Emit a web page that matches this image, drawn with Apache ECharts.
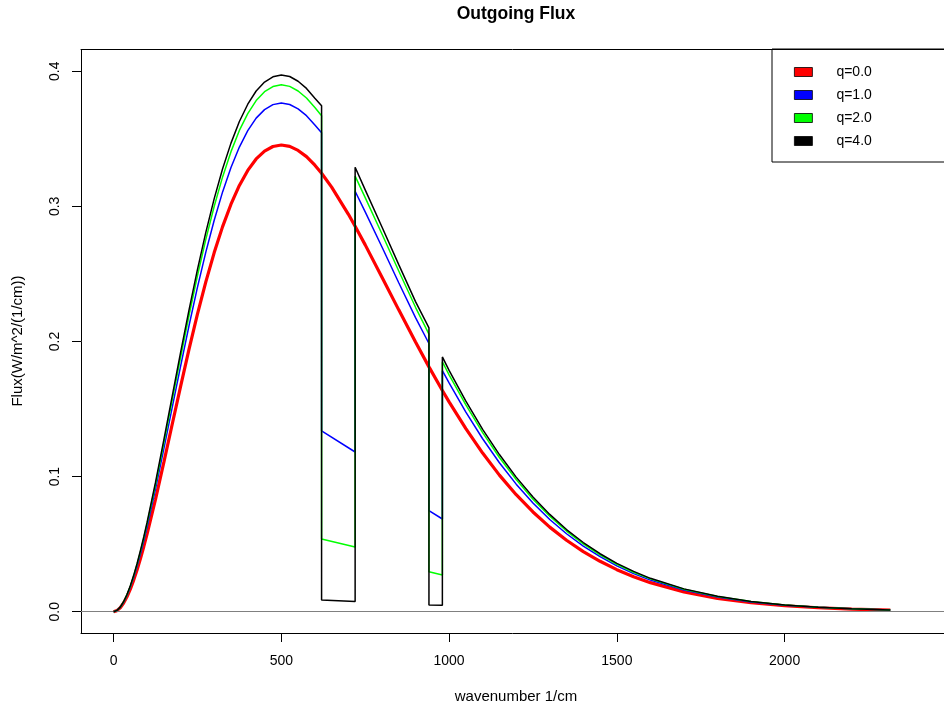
<!DOCTYPE html>
<html><head><meta charset="utf-8">
<script src="https://cdn.jsdelivr.net/npm/echarts@6/dist/echarts.min.js"></script>
<style>html,body{margin:0;padding:0;background:#fff}#c{width:944px;height:706px}</style>
</head><body><div id="c"></div>
<script>
// wavenumber samples (1/cm)
const wnLow = [0,10,20,30,40,50,60,70,80,90,100,125,150,175,200,225,250,275,300,325,350,375,400,425,450,475,500,525,550,575,600,620];
const wnRedBand1 = [650,700];
const wnMid = [720,750,800,850,900,940];
const wnHigh = [980,1000,1050,1100,1150,1200,1250,1300,1350,1400,1450,1500,1550,1600,1700,1800,1900,2000,2100,2200,2315];
const band1Edges = [620,720];
const band2Edges = [940,980];

// q=0.0 (no absorption bands)
const redLow = [0,0.0008,0.0029,0.0064,0.0110,0.0167,0.0234,0.0309,0.0392,0.0481,0.0576,0.0832,0.1107,0.1389,0.1670,0.1943,0.2202,0.2441,0.2658,0.2850,0.3016,0.3155,0.3266,0.3351,0.3409,0.3443,0.3454,0.3444,0.3414,0.3368,0.3305,0.3245];
const redBand1 = [0.3142,0.2941];
const redMid = [0.2853,0.2715,0.2476,0.2234,0.1996,0.1812];
const redHigh = [0.1637,0.1553,0.1355,0.1174,0.1011,0.0866,0.0738,0.0626,0.0529,0.0445,0.0373,0.0311,0.0259,0.0215,0.0147,0.0099,0.0066,0.0044,0.0029,0.0019,0.0012];

// q=1.0
const q1Low = [0,0.0009,0.0032,0.0070,0.0120,0.0182,0.0255,0.0337,0.0427,0.0524,0.0628,0.0907,0.1207,0.1514,0.1820,0.2118,0.2400,0.2661,0.2897,0.3107,0.3287,0.3439,0.3560,0.3653,0.3716,0.3753,0.3765,0.3754,0.3721,0.3671,0.3602,0.3545];
const q1Band1 = [0.1338,0.1182];
const q1Mid = [0.3112,0.2959,0.2699,0.2435,0.2176,0.1985];
const q1Band2 = [0.0748,0.0686];
const q1High = [0.1784,0.1693,0.1477,0.1280,0.1102,0.0944,0.0804,0.0682,0.0577,0.0485,0.0407,0.0339,0.0282,0.0234,0.0160,0.0108,0.0072,0.0048,0.0032,0.0021,0.0013];

// q=2.0
const q2Low = [0,0.0009,0.0033,0.0072,0.0124,0.0189,0.0264,0.0349,0.0443,0.0543,0.0650,0.0939,0.1250,0.1568,0.1885,0.2194,0.2486,0.2756,0.3001,0.3218,0.3405,0.3562,0.3687,0.3783,0.3849,0.3887,0.3900,0.3888,0.3854,0.3802,0.3731,0.3670];
const q2Band1 = [0.0538,0.0479];
const q2Mid = [0.3224,0.3065,0.2795,0.2522,0.2253,0.2055];
const q2Band2 = [0.0296,0.0272];
const q2High = [0.1850,0.1753,0.1530,0.1325,0.1141,0.0978,0.0833,0.0707,0.0597,0.0502,0.0421,0.0351,0.0292,0.0243,0.0166,0.0112,0.0075,0.0050,0.0033,0.0021,0.0013];

// q=4.0
const q4Low = [0,0.0009,0.0034,0.0074,0.0127,0.0192,0.0269,0.0355,0.0451,0.0553,0.0662,0.0957,0.1273,0.1597,0.1921,0.2234,0.2532,0.2807,0.3057,0.3278,0.3468,0.3628,0.3756,0.3854,0.3920,0.3959,0.3972,0.3961,0.3926,0.3873,0.3801,0.3745];
const q4Band1 = [0.0087,0.0075];
const q4Mid = [0.3290,0.3122,0.2847,0.2569,0.2295,0.2100];
const q4Band2 = [0.0050,0.0048];
const q4High = [0.1886,0.1786,0.1558,0.1350,0.1163,0.0996,0.0849,0.0720,0.0608,0.0512,0.0429,0.0358,0.0298,0.0247,0.0169,0.0114,0.0076,0.0050,0.0033,0.0022,0.0013];

const xTicks = [0,500,1000,1500,2000];
const yTicks = [0,0.1,0.2,0.3,0.4];
const seriesNames = ['q=0.0','q=1.0','q=2.0','q=4.0'];
const seriesColors = ['#ff0000','#0000ff','#00ff00','#000000'];

function zip(xs, ys){ return xs.map((x,i)=>[x, ys[i]]); }
const redData = [].concat(zip(wnLow, redLow), zip(wnRedBand1, redBand1), zip(wnMid, redMid), zip(wnHigh, redHigh));
function qData(low, b1, mid, b2, high){
  return [].concat(zip(wnLow, low), zip(band1Edges, b1), zip(wnMid, mid), zip(band2Edges, b2), zip(wnHigh, high));
}
const allData = [redData,
  qData(q1Low,q1Band1,q1Mid,q1Band2,q1High),
  qData(q2Low,q2Band1,q2Mid,q2Band2,q2High),
  qData(q4Low,q4Band1,q4Mid,q4Band2,q4High)];

const FONT = "'Liberation Sans', Arial, Helvetica, sans-serif";
const chart = echarts.init(document.getElementById('c'), null, {renderer:'canvas'});
const series = allData.map((d,i)=>({
  name: seriesNames[i], type:'line', data:d, symbol:'none', showSymbol:false,
  color: seriesColors[i],
  lineStyle:{color:seriesColors[i], width: i===0 ? 3.2 : 1.5},
  z: 2+i, animation:false
}));
series[0].markLine = {
  silent:true, symbol:'none', animation:false,
  label:{show:false},
  lineStyle:{color:'#808080', width:1.2, type:'solid'},
  data:[{yAxis:0}]
};
const XMIN = -97, XMAX = 2475;
chart.setOption({
  animation:false,
  backgroundColor:'#fff',
  grid:{left:81, top:49.5, width:863, height:583.5, show:false},
  xAxis:[{type:'value', min:XMIN, max:XMAX, position:'bottom',
    axisLine:{show:true, onZero:false, lineStyle:{color:'#000', width:1}}, splitLine:{show:false},
    axisTick:{show:true, customValues:xTicks, length:9, lineStyle:{color:'#000', width:1}},
    axisLabel:{customValues:xTicks, fontSize:14, color:'#000', fontFamily:FONT, margin:21, formatter:v=>String(v)}},
    {type:'value', min:XMIN, max:XMAX, position:'top',
    axisLine:{show:true, onZero:false, lineStyle:{color:'#000', width:1}}, splitLine:{show:false},
    axisTick:{show:false}, axisLabel:{show:false}}],
  yAxis:{type:'value', min:-0.01577, max:0.4161,
    axisLine:{show:true, onZero:false, lineStyle:{color:'#000', width:1}}, splitLine:{show:false},
    axisTick:{show:true, customValues:yTicks, length:9, lineStyle:{color:'#000', width:1}},
    axisLabel:{customValues:yTicks, rotate:90, fontSize:14, color:'#000', fontFamily:FONT, margin:19,
      formatter:v=>v.toFixed(1)}},
  legend:{orient:'vertical', left:772, top:49, padding:[16,140,14,22],
    itemWidth:18, itemHeight:9, itemGap:9, icon:'rect',
    borderColor:'#000', borderWidth:1,
    itemStyle:{borderColor:'#000', borderWidth:0.8},
    textStyle:{fontSize:14, color:'#000', fontFamily:FONT, padding:[0,0,0,19]},
    data:seriesNames},
  graphic:[
    {type:'text', x:516, y:14, style:{text:'Outgoing Flux', font:"bold 17.5px "+FONT, fill:'#000', textAlign:'center', textVerticalAlign:'middle'}},
    {type:'text', x:516, y:697, style:{text:'wavenumber 1/cm', font:"15px "+FONT, fill:'#000', textAlign:'center', textVerticalAlign:'middle'}},
    {type:'text', x:18, y:341, rotation:Math.PI/2, style:{text:'Flux(W/m^2/(1/cm))', font:"15px "+FONT, fill:'#000', textAlign:'center', textVerticalAlign:'middle'}}
  ],
  series: series
});
</script></body></html>
